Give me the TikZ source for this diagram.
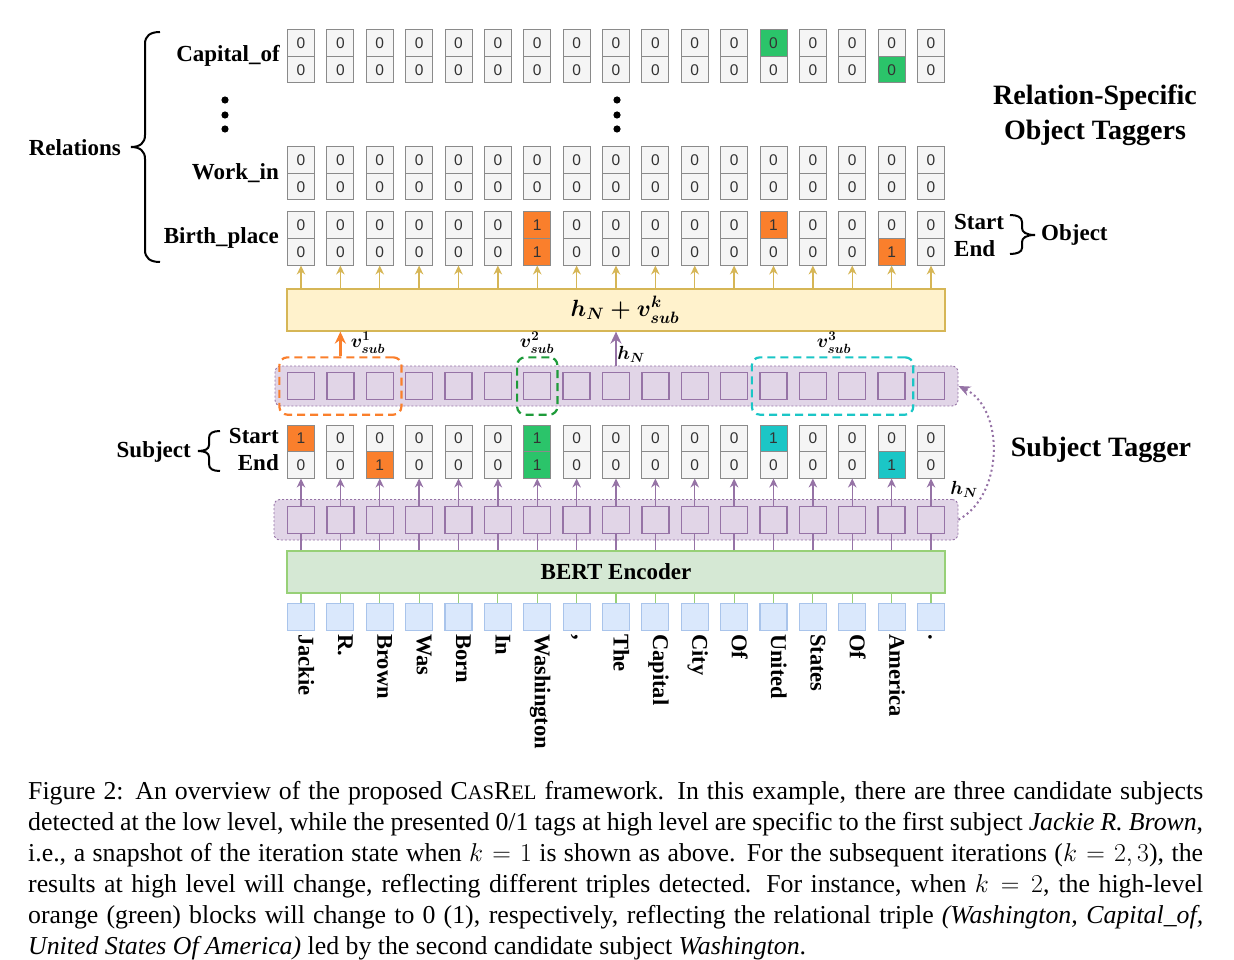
\RequirePackage{fix-cm}
\documentclass[tikz,border=0pt]{standalone}
\usepackage{amsmath}
\usepackage{fontspec}
\setmainfont{Liberation Serif}
\newfontfamily\digitfont{Liberation Sans}
\usetikzlibrary{arrows.meta,fit}

\definecolor{cellfill}{HTML}{F5F5F5}
\definecolor{cellline}{HTML}{8A8A8A}
\definecolor{corange}{HTML}{FA7F2C}
\definecolor{cgreen}{HTML}{2BC46A}
\definecolor{ccyan}{HTML}{1BC6C6}
\definecolor{yelfill}{HTML}{FFF2CC}
\definecolor{yelline}{HTML}{D6B656}
\definecolor{purfill}{HTML}{E1D5E7}
\definecolor{purline}{HTML}{9673A6}
\definecolor{grnfill}{HTML}{D5E8D4}
\definecolor{grnline}{HTML}{97D077}
\definecolor{blufill}{HTML}{DAE8FC}
\definecolor{bluline}{HTML}{A9C4EB}
\definecolor{dgreen}{HTML}{1E9B3A}
\definecolor{digit}{HTML}{333333}

\newcommand\tagcolumn[8]{%
  \node[tagcell,fill=#5] (#1-#2-s) at (#3,#4+13.25) {#6};
  \node[tagcell,fill=#7] (#1-#2-e) at (#3,#4+39.75) {#8};
}

\begin{document}
\begin{tikzpicture}[x=1pt,y=-1pt,
  tagcell/.style={draw=cellline, line width=1pt, minimum width=27pt, minimum height=26.5pt, inner sep=0pt, font=\digitfont\fontsize{15.5}{17}\selectfont, text=digit},
  lbl/.style={font=\bfseries\fontsize{23}{26}\selectfont, inner sep=0pt},
  bigtitle/.style={font=\bfseries\fontsize{28}{35}\selectfont, align=center, inner sep=0pt},
  psq/.style={draw=purline, fill=purfill, line width=1.3pt, minimum size=27pt, inner sep=0pt},
  prow/.style={draw=purline, fill=purfill, line width=0.9pt, dash pattern=on 2pt off 2pt, rounded corners=6pt, inner sep=0pt},
  tok/.style={draw=bluline, fill=blufill, line width=1.2pt, minimum width=27pt, minimum height=27.5pt, inner sep=0pt},
  word/.style={font=\bfseries\fontsize{22.5}{26}\selectfont, rotate=-90, anchor=mid west, inner sep=0pt},
  yarrow/.style={draw=yelline, line width=1.3pt, -{Stealth[length=9pt,width=8.5pt]}},
  parrow/.style={draw=purline, line width=1.3pt, -{Stealth[length=9pt,width=8.5pt]}},
  pline/.style={draw=purline, line width=1.3pt},
  gline/.style={draw=grnline, line width=1.2pt},
  cand/.style={dash pattern=on 8pt off 5pt, line width=2.2pt, rounded corners=8pt, inner xsep=7.5pt, inner ysep=14.5pt},
  mlab/.style={font=\fontsize{19}{21}\selectfont\boldmath, inner sep=0pt},
  bracestyle/.style={line width=2pt, draw=black},
  bigbox/.style={line width=1.2pt, minimum width=658pt, minimum height=42pt, inner sep=0pt}
]
\useasboundingbox (0,0) rectangle (1234,960);

% ---------- relation-specific object taggers ----------
\foreach \i in {1,...,17}{
  \pgfmathsetmacro\cx{301+(\i-1)*39.375}
  \def\tfill{cellfill}\def\bfill{cellfill}
  \ifnum\i=13 \def\tfill{cgreen}\fi
  \ifnum\i=16 \def\bfill{cgreen}\fi
  \tagcolumn{cap}{\i}{\cx}{30}{\tfill}{0}{\bfill}{0}
  \tagcolumn{work}{\i}{\cx}{147}{cellfill}{0}{cellfill}{0}
  \def\tfill{cellfill}\def\bfill{cellfill}\def\tval{0}\def\bval{0}
  \ifnum\i=7 \def\tfill{corange}\def\tval{1}\def\bfill{corange}\def\bval{1}\fi
  \ifnum\i=13 \def\tfill{corange}\def\tval{1}\fi
  \ifnum\i=16 \def\bfill{corange}\def\bval{1}\fi
  \tagcolumn{bp}{\i}{\cx}{212}{\tfill}{\tval}{\bfill}{\bval}
}

% vertical dots
\foreach \yy in {100,115,129}{
  \fill (225,\yy) circle (3.6);
  \fill (617,\yy) circle (3.6);
}

% relation labels
\node[lbl, anchor=east] (lcap) at (280,56) {Capital\_of};
\node[lbl, anchor=east] (lwork) at (279,173) {Work\_in};
\node[lbl, anchor=east] (lbp) at (279,238) {Birth\_place};
\node[lbl, anchor=east] (lrel) at (121,148) {Relations};
\draw[bracestyle] (160,32) .. controls (150,32) and (145,36) .. (145,44) -- (145,135)
  .. controls (145,143) and (140,147) .. (131,147)
  .. controls (140,147) and (145,151) .. (145,159) -- (145,250)
  .. controls (145,258) and (150,262) .. (160,262);

% object start / end
\node[lbl, anchor=west] (ostart) at (954,222) {Start};
\node[lbl, anchor=west] (oend) at (954,249) {End};
\draw[bracestyle] (1010,215) .. controls (1017,215) and (1022,217) .. (1022,222) -- (1022,228)
  .. controls (1022,232) and (1026,235) .. (1035,235)
  .. controls (1026,235) and (1022,238) .. (1022,242) -- (1022,248)
  .. controls (1022,252) and (1017,254) .. (1010,254);
\node[lbl, anchor=west] (lobj) at (1041,235) {Object};

\node[bigtitle] (ttitle) at (1095,115) {Relation-Specific\\Object Taggers};

% ---------- yellow fusion box ----------
\node[bigbox, draw=yelline, fill=yelfill, font=\fontsize{23.5}{26}\selectfont\boldmath] (yel) at (616,310) {\hspace{18pt}$h_N + v^{k}_{sub}$};
\foreach \i in {1,...,17}{
  \draw[yarrow] (yel.north -| bp-\i-e.south) -- (bp-\i-e.south);
}

% ---------- upper hidden row ----------
\node[prow, minimum width=683pt, minimum height=40pt] (upr) at (616.5,386) {};
\foreach \i in {1,...,17}{
  \pgfmathsetmacro\cx{301+(\i-1)*39.375}
  \node[psq] (hu-\i) at (\cx,386) {};
}
\node[cand, draw=corange, fit=(hu-1)(hu-3)] (c1) {};
\node[cand, draw=dgreen, fit=(hu-7), inner xsep=6pt] (c2) {};
\node[cand, draw=ccyan, fit=(hu-13)(hu-16)] (c3) {};
\draw[draw=corange, line width=2.5pt, -{Stealth[length=12pt,width=11pt]}] (c1.north -| hu-2) -- (yel.south -| hu-2);
\draw[draw=purline, line width=2.5pt, -{Stealth[length=12pt,width=11pt]}] (upr.north -| hu-9) -- (yel.south -| hu-9);
\node[mlab] (v1) at (368,343) {$v^{1}_{sub}$};
\node[mlab] (v2) at (537,343) {$v^{2}_{sub}$};
\node[mlab] (v3) at (834,343) {$v^{3}_{sub}$};
\node[mlab] (hn1) at (631,354) {$h_N$};

% ---------- subject tagger ----------
\foreach \i in {1,...,17}{
  \pgfmathsetmacro\cx{301+(\i-1)*39.375}
  \def\tfill{cellfill}\def\bfill{cellfill}\def\tval{0}\def\bval{0}
  \ifnum\i=1 \def\tfill{corange}\def\tval{1}\fi
  \ifnum\i=3 \def\bfill{corange}\def\bval{1}\fi
  \ifnum\i=7 \def\tfill{cgreen}\def\tval{1}\def\bfill{cgreen}\def\bval{1}\fi
  \ifnum\i=13 \def\tfill{ccyan}\def\tval{1}\fi
  \ifnum\i=16 \def\bfill{ccyan}\def\bval{1}\fi
  \tagcolumn{sub}{\i}{\cx}{425}{\tfill}{\tval}{\bfill}{\bval}
}
\node[lbl, anchor=east] (sstart) at (279,436) {Start};
\node[lbl, anchor=east] (send) at (279,463) {End};
\node[lbl, anchor=east] (lsub) at (191,452) {Subject};
\draw[bracestyle] (220,431) .. controls (213,431) and (209,433) .. (209,438) -- (209,445)
  .. controls (209,449) and (205,451) .. (198,451)
  .. controls (205,451) and (209,453) .. (209,457) -- (209,464)
  .. controls (209,469) and (213,471) .. (220,471);
\node[bigtitle] (stitle) at (1101,450) {Subject Tagger};

% ---------- lower row, BERT, tokens ----------
\node[prow, minimum width=684pt, minimum height=40.5pt] (lpr) at (616,519.75) {};
\node[bigbox, draw=grnline, fill=grnfill, font=\bfseries\fontsize{23}{26}\selectfont] (bert) at (616,572) {BERT Encoder};
\foreach \i/\w in {1/Jackie,2/R.,3/Brown,4/Was,5/Born,6/In,7/Washington,8/{,},9/The,10/Capital,11/City,12/Of,13/United,14/States,15/Of,16/America,17/.}{
  \pgfmathsetmacro\cx{301+(\i-1)*39.375}
  \node[psq] (hl-\i) at (\cx,520) {};
  \draw[pline] (bert.north -| hl-\i) -- (hl-\i.south);
  \draw[parrow] (hl-\i.north) -- (sub-\i-e.south);
  \node[tok] (tok-\i) at (\cx,617) {};
  \draw[gline] (tok-\i.north) -- (bert.south -| tok-\i);
  \node[word] (w-\i) at (\cx,634) {\w};
}

% recurrent h_N arc
\draw[draw=purline, line width=2pt, dash pattern=on 2pt off 3pt, -{Stealth[length=12pt,width=10pt]}]
  (lpr.east) .. controls +(46,-25) and +(46,22) .. (upr.east);
\node[mlab] (hn2) at (964,489) {$h_N$};

% ---------- caption ----------
\node[anchor=base west, text width=1175pt, align=justify, inner sep=0pt, font=\fontsize{25.8}{31}\selectfont] (caption) at (28,799) {Figure 2: An overview of the proposed C{\fontsize{20.6}{31}\selectfont AS}R{\fontsize{20.6}{31}\selectfont EL} framework. In this example, there are three candidate subjects\linebreak detected at the low level, while the presented 0/1 tags at high level are specific to the first subject \textit{Jackie R. Brown},\linebreak i.e., a snapshot of the iteration state when $k=1$ is shown as above. For the subsequent iterations ($k=2,3$), the\linebreak results at high level will change, reflecting different triples detected. For instance, when $k=2$, the high-level\linebreak orange (green) blocks will change to 0 (1), respectively, reflecting the relational triple \textit{(Washington, Capital\_of,}\linebreak \textit{United States Of America)} led by the second candidate subject \textit{Washington}.};
\end{tikzpicture}
\end{document}
